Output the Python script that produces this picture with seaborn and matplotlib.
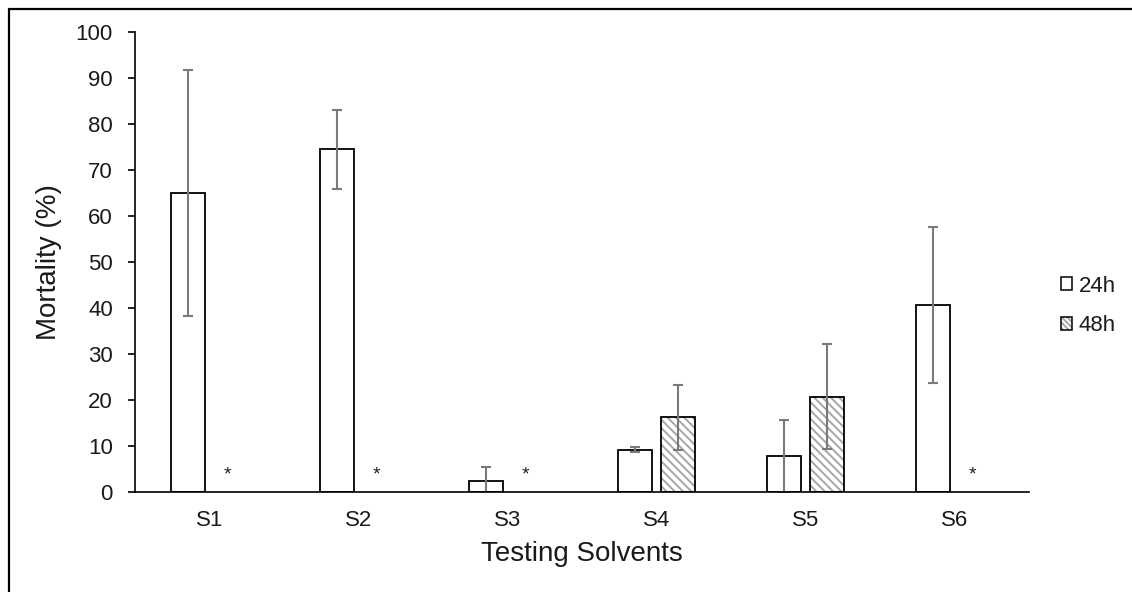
import matplotlib
matplotlib.use("Agg")
import matplotlib.pyplot as plt
from matplotlib.lines import Line2D
from matplotlib.patches import Patch
from matplotlib.legend_handler import HandlerTuple
import seaborn as sns
import pandas as pd

# Mean mortality (%) and standard deviation per solvent and exposure time
solvents = ["S1", "S2", "S3", "S4", "S5", "S6"]
periods = ["24h", "48h"]
mort_24h = [65.0, 74.5, 2.5, 9.2, 7.8, 40.6]
err_24h = [26.7, 8.6, 3.0, 0.6, 7.8, 17.0]
mort_48h = [0.0, 0.0, 0.0, 16.2, 20.7, 0.0]
err_48h = [0.0, 0.0, 0.0, 7.0, 11.4, 0.0]
# solvents with no 48h reading are flagged with an asterisk
flag_48h = [True, True, True, False, False, True]

df = pd.DataFrame({
    "Solvent": solvents * 2,
    "Period": [periods[0]] * len(solvents) + [periods[1]] * len(solvents),
    "Mortality": mort_24h + mort_48h,
})

sns.set_theme(style="white")
plt.rcParams["font.family"] = ["Liberation Sans", "DejaVu Sans"]
plt.rcParams["hatch.linewidth"] = 1.4

HATCH = "\\\\\\\\"
HATCH_GREY = "#a6a6a6"
ERR_GREY = "#7a7a7a"
TEXT = "#1a1a1a"

W, H = 1132, 592
fig = plt.figure(figsize=(W / 100, H / 100), dpi=100)
ax = fig.add_axes([135 / W, 1 - 492 / H, (1029 - 135) / W, (492 - 32) / H])

# fill layer (carries the grey hatch of the 48h bars)
sns.barplot(data=df, x="Solvent", y="Mortality", hue="Period",
            order=solvents, hue_order=periods, palette=["white", "white"],
            width=0.575, gap=0.2, errorbar=None, edgecolor=HATCH_GREY,
            linewidth=0, legend=False, ax=ax, zorder=2)
fill_24, fill_48 = ax.containers[0], ax.containers[1]
for p in fill_48:
    p.set_hatch(HATCH)

# outline layer
sns.barplot(data=df, x="Solvent", y="Mortality", hue="Period",
            order=solvents, hue_order=periods, palette=["black", "black"],
            width=0.575, gap=0.2, errorbar=None, fill=False,
            linewidth=1.3, legend=False, ax=ax, zorder=3)
line_24, line_48 = ax.containers[2], ax.containers[3]

# hide empty bars and mark them with an asterisk
for p_fill, p_line, flag in zip(fill_48, line_48, flag_48h):
    if flag:
        p_fill.set_visible(False)
        p_line.set_visible(False)
        ax.text(p_fill.get_x() + p_fill.get_width() / 2, 3.6, "*",
                ha="right", va="center", fontsize=14, color="#222222")

# error bars at the bar centres
for bars, vals, errs, flags in [
    (fill_24, mort_24h, err_24h, [False] * len(solvents)),
    (fill_48, mort_48h, err_48h, flag_48h),
]:
    xs, ys, es = [], [], []
    for p, v, e, f in zip(bars, vals, errs, flags):
        if f:
            continue
        xs.append(p.get_x() + p.get_width() / 2)
        ys.append(v)
        es.append(e)
    ax.errorbar(xs, ys, yerr=es, fmt="none", ecolor=ERR_GREY,
                elinewidth=1.5, capsize=3.5, capthick=1.5, zorder=4)

ax.set_ylim(0, 100)
ax.set_yticks(range(0, 101, 10))
ax.set_xlim(-0.5, len(solvents) - 0.5)

for side in ["top", "right"]:
    ax.spines[side].set_visible(False)
for side in ["left", "bottom"]:
    ax.spines[side].set_color("black")
    ax.spines[side].set_linewidth(1.2)
    ax.spines[side].set_zorder(5)

ax.tick_params(axis="y", left=True, length=5, width=1.2, color="black",
               direction="out", pad=11, labelsize=16, labelcolor=TEXT)
ax.tick_params(axis="x", bottom=False, length=0, pad=13, labelsize=16,
               labelcolor=TEXT)

ax.set_xlabel("Testing Solvents", fontsize=20, color=TEXT, labelpad=7)
ax.set_ylabel("Mortality (%)", fontsize=20, color=TEXT, labelpad=10)

# legend keys: plain outline for 24h, grey hatch under a black outline for 48h
key_24 = Patch(facecolor="white", edgecolor="black", linewidth=1.1)
key_48_fill = Patch(facecolor="white", edgecolor=HATCH_GREY, linewidth=0,
                    hatch="\\\\\\\\\\\\")
key_48_line = Patch(facecolor="none", edgecolor="black", linewidth=1.1)
leg = fig.legend([key_24, (key_48_fill, key_48_line)], periods,
                 handler_map={tuple: HandlerTuple(ndivide=1, pad=0)},
                 loc="center left", bbox_to_anchor=(1061 / W, 1 - 306 / H),
                 frameon=False, fontsize=16, handlelength=0.5,
                 handleheight=0.5, handletextpad=0.3, labelspacing=0.85,
                 borderpad=0, borderaxespad=0)
for t in leg.get_texts():
    t.set_color(TEXT)

# page frame along the top and left edges
fig.add_artist(Line2D([8.5 / W, 8.5 / W], [0, 1 - 8.5 / H],
                      transform=fig.transFigure, color="black", linewidth=1.6))
fig.add_artist(Line2D([8.5 / W, 1], [1 - 8.5 / H, 1 - 8.5 / H],
                      transform=fig.transFigure, color="black", linewidth=1.6))

fig.savefig("out.png", dpi=100, facecolor="white")
